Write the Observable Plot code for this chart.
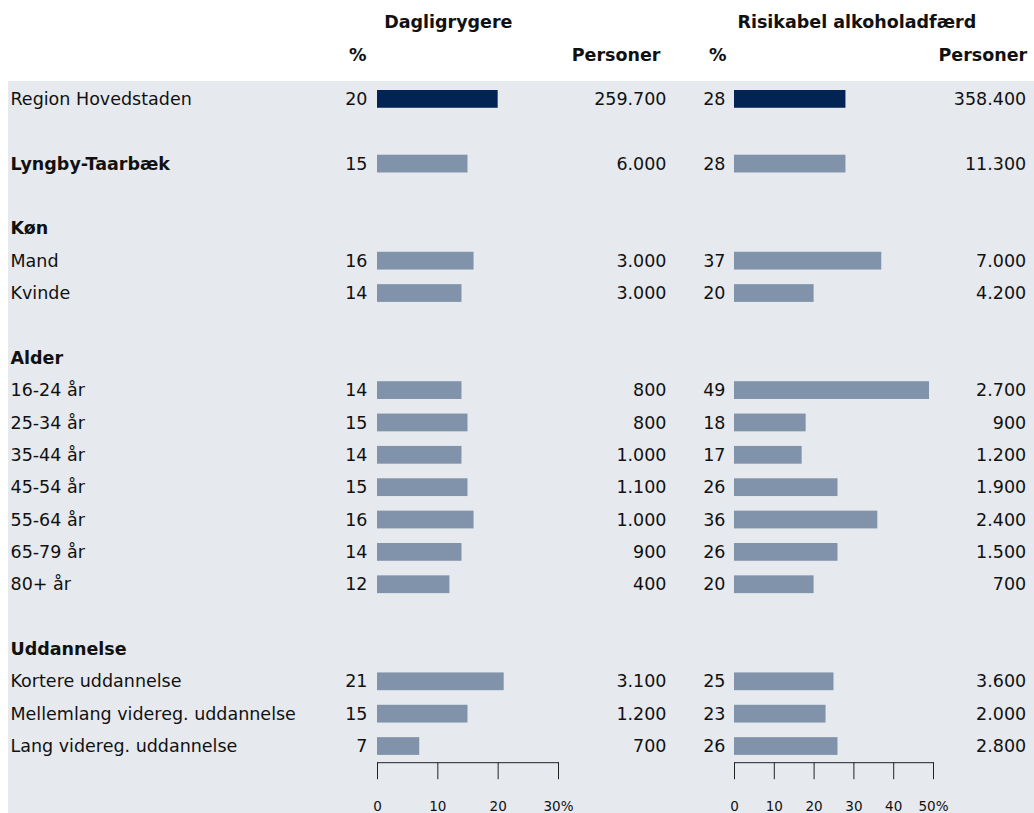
<!DOCTYPE html>
<html><head><meta charset="utf-8">
<script src="https://cdn.jsdelivr.net/npm/d3@7"></script>
<script src="https://cdn.jsdelivr.net/npm/@observablehq/plot@0.6"></script>
<style>
body{margin:0;background:#fff}
#wrap{position:relative;width:1034px;height:813px;font-family:"DejaVu Sans";overflow:hidden}
#bg{position:absolute;left:8px;top:81px;right:0;bottom:0;background:#e6e9ee}
.p{position:absolute;top:0}
</style>
</head><body><div id="wrap"><div id="bg"></div></div>
<script>
// ---- data ----
const labels = ["Region Hovedstaden", "", "Lyngby-Taarbæk", "", "Køn", "Mand", "Kvinde", "", "Alder",
  "16-24 år", "25-34 år", "35-44 år", "45-54 år", "55-64 år", "65-79 år", "80+ år", "",
  "Uddannelse", "Kortere uddannelse", "Mellemlang videreg. uddannelse", "Lang videreg. uddannelse"];
const boldLabels = ["Lyngby-Taarbæk", "Køn", "Alder", "Uddannelse"];
const smokePct = [20, null, 15, null, null, 16, 14, null, null, 14, 15, 14, 15, 16, 14, 12, null, null, 21, 15, 7];
const smokeN   = [259700, null, 6000, null, null, 3000, 3000, null, null, 800, 800, 1000, 1100, 1000, 900, 400, null, null, 3100, 1200, 700];
const alcPct   = [28, null, 28, null, null, 37, 20, null, null, 49, 18, 17, 26, 36, 26, 20, null, null, 25, 23, 26];
const alcN     = [358400, null, 11300, null, null, 7000, 4200, null, null, 2700, 900, 1200, 1900, 2400, 1500, 700, null, null, 3600, 2000, 2800];
const smokeTicks = [0, 10, 20, 30];
const alcTicks = [0, 10, 20, 30, 40, 50];
const titles = ["Dagligrygere", "Risikabel alkoholadfærd"];

// ---- helpers ----
const fmt = d3.formatLocale({decimal: ",", thousands: ".", grouping: [3], currency: ["", " kr."]}).format(",");
const rows = labels.map((label, i) => ({i, label, bold: boldLabels.includes(label), sp: smokePct[i], sn: smokeN[i], ap: alcPct[i], an: alcN[i]}));
const NAVY = "#022454", GREY = "#8193ab", INK = "#111";
const H = 813, MT = 82.7, MB = 813 - 762.2, INSET = 7.3;

function panel({left, width, ml, mr, pctKey, nKey, ticks, title, titleDx, pctDx, pctHdrDx, nDx, nHdrDx, withLabels}) {
  const max = ticks[ticks.length - 1];
  const marks = [
    Plot.barX(rows.filter(d => d[pctKey] != null), {
      x: pctKey, y: "i", fill: d => d.i === 0 ? NAVY : GREY, insetTop: INSET, insetBottom: INSET
    }),
    Plot.text(rows.filter(d => d[pctKey] != null), {
      y: "i", text: d => String(d[pctKey]), frameAnchor: "left", textAnchor: "end", dx: pctDx, fill: INK
    }),
    Plot.text(rows.filter(d => d[nKey] != null), {
      y: "i", text: d => fmt(d[nKey]), frameAnchor: "right", textAnchor: "end", dx: nDx, fill: INK
    }),
    Plot.text([title], {text: d => d, frameAnchor: "top", lineAnchor: "middle", dx: titleDx, dy: 22 - MT, fontWeight: "bold", fill: INK}),
    Plot.text(["%"], {text: d => d, frameAnchor: "top-left", textAnchor: "end", lineAnchor: "middle", dx: pctHdrDx, dy: 54.5 - MT, fontWeight: "bold", fill: INK}),
    Plot.text(["Personer"], {text: d => d, frameAnchor: "top-right", textAnchor: "end", lineAnchor: "middle", dx: nHdrDx, dy: 54.5 - MT, fontWeight: "bold", fill: INK}),
    Plot.frame({anchor: "bottom", stroke: "#222"}),
    Plot.axisX({ticks, tickSize: 17, tickPadding: 22, fontSize: 13.5, stroke: "#222", label: null,
      tickFormat: d => d === max ? d + "%" : String(d), fill: INK})
  ];
  if (withLabels) {
    marks.push(Plot.text(rows.filter(d => d.label && !d.bold), {y: "i", text: "label", frameAnchor: "left", textAnchor: "start", dx: 10 - ml, fill: INK}));
    marks.push(Plot.text(rows.filter(d => d.bold), {y: "i", text: "label", frameAnchor: "left", textAnchor: "start", dx: 10 - ml, fontWeight: "bold", fill: INK}));
  }
  const svg = Plot.plot({
    width, height: H, marginLeft: ml, marginRight: mr, marginTop: MT, marginBottom: MB,
    x: {domain: [0, max], label: null},
    y: {domain: d3.range(labels.length), padding: 0, round: false, axis: null},
    style: {fontFamily: "DejaVu Sans", fontSize: "17.5px", background: "transparent", overflow: "visible", color: INK},
    marks
  });
  svg.classList.add("p");
  svg.style.left = left + "px";
  document.getElementById("wrap").appendChild(svg);
}

panel({left: 0, width: 666, ml: 377, mr: 108, pctKey: "sp", nKey: "sn", ticks: smokeTicks, title: titles[0],
  titleDx: 447.8 - 467.5, pctDx: -10, pctHdrDx: -11, nDx: 108, nHdrDx: 102, withLabels: true});
panel({left: 666, width: 368, ml: 68, mr: 101, pctKey: "ap", nKey: "an", ticks: alcTicks, title: titles[1],
  titleDx: 856.3 - 833.5, pctDx: -9, pctHdrDx: -8, nDx: 92.7, nHdrDx: 93.7, withLabels: false});
</script></body></html>
